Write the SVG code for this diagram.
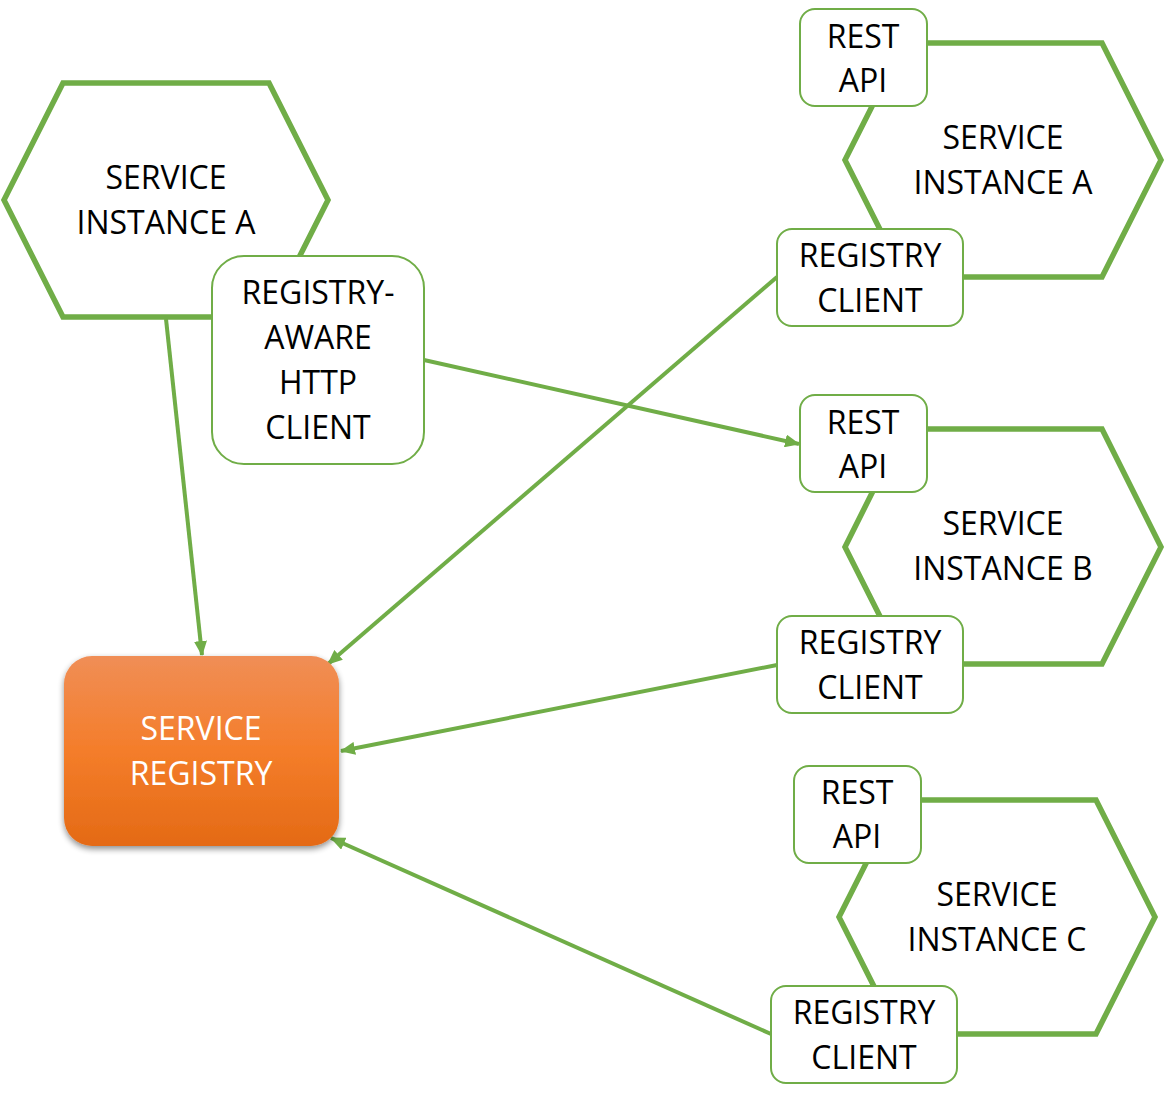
<svg xmlns="http://www.w3.org/2000/svg" width="1165" height="1103" viewBox="0 0 1165 1103">
<defs>
<linearGradient id="og" x1="0" y1="0" x2="0" y2="1">
<stop offset="0" stop-color="#F08E56"/>
<stop offset="0.5" stop-color="#F47D2A"/>
<stop offset="1" stop-color="#E46A15"/>
</linearGradient>
<filter id="sh" x="-20%" y="-20%" width="140%" height="140%">
<feGaussianBlur in="SourceAlpha" stdDeviation="3"/>
<feOffset dx="0" dy="3" result="b"/>
<feComponentTransfer><feFuncA type="linear" slope="0.45"/></feComponentTransfer>
<feMerge><feMergeNode/><feMergeNode in="SourceGraphic"/></feMerge>
</filter>
<marker id="ah" markerUnits="userSpaceOnUse" markerWidth="15" markerHeight="13" refX="14" refY="6.5" orient="auto">
<path d="M0,0 L15,6.5 L0,13 Z" fill="#70AD47"/>
</marker>
</defs>
<style>
.hex{fill:#fff;stroke:#70AD47;stroke-width:5.5}
.box{fill:#fff;stroke:#70AD47;stroke-width:2}
.t{font-family:"Open Sans","Noto Sans",sans-serif;font-size:32px;fill:#000;text-anchor:middle}
.w{fill:#fff}
.c{stroke:#70AD47;stroke-width:4;fill:none;marker-end:url(#ah)}
</style>
<g id="hex-left">
<polygon class="hex" points="63,83 269,83 328,200 269,317 63,317 4,200"/>
<text class="t" x="166" y="189">SERVICE</text>
<text class="t" x="166" y="234">INSTANCE A</text>
</g>
<g id="hex-a">
<polygon class="hex" points="904,43 1102,43 1161,160 1102,277 904,277 845,160"/>
<text class="t" x="1003" y="149">SERVICE</text>
<text class="t" x="1003" y="194">INSTANCE A</text>
</g>
<g id="hex-b">
<polygon class="hex" points="904,429 1102,429 1161,547 1102,664 904,664 845,547"/>
<text class="t" x="1003" y="535">SERVICE</text>
<text class="t" x="1003" y="580">INSTANCE B</text>
</g>
<g id="hex-c">
<polygon class="hex" points="898,800 1096,800 1155,917 1096,1034 898,1034 839,917"/>
<text class="t" x="997" y="906">SERVICE</text>
<text class="t" x="997" y="951">INSTANCE C</text>
</g>
<g id="connectors">
<line class="c" x1="166" y1="319" x2="202" y2="655"/>
<line class="c" x1="424" y1="360" x2="799" y2="444"/>
<line class="c" x1="777" y1="277" x2="328" y2="664"/>
<line class="c" x1="777" y1="665" x2="341" y2="751"/>
<line class="c" x1="771" y1="1034" x2="331" y2="838"/>
</g>
<g id="registry-aware-client">
<rect class="box" x="212" y="256" width="212" height="208" rx="32"/>
<text class="t" x="318" y="304">REGISTRY-</text>
<text class="t" x="318" y="349">AWARE</text>
<text class="t" x="318" y="394">HTTP</text>
<text class="t" x="318" y="439">CLIENT</text>
</g>
<g id="rest-a">
<rect class="box" x="800" y="9" width="127" height="97" rx="15"/>
<text class="t" x="863" y="48">REST</text>
<text class="t" x="863" y="92">API</text>
</g>
<g id="regclient-a">
<rect class="box" x="777" y="229" width="186" height="97" rx="15"/>
<text class="t" x="870" y="267">REGISTRY</text>
<text class="t" x="870" y="312">CLIENT</text>
</g>
<g id="rest-b">
<rect class="box" x="800" y="395" width="127" height="97" rx="15"/>
<text class="t" x="863" y="434">REST</text>
<text class="t" x="863" y="478">API</text>
</g>
<g id="regclient-b">
<rect class="box" x="777" y="616" width="186" height="97" rx="15"/>
<text class="t" x="870" y="654">REGISTRY</text>
<text class="t" x="870" y="699">CLIENT</text>
</g>
<g id="rest-c">
<rect class="box" x="794" y="766" width="127" height="97" rx="15"/>
<text class="t" x="857" y="804">REST</text>
<text class="t" x="857" y="848">API</text>
</g>
<g id="regclient-c">
<rect class="box" x="771" y="986" width="186" height="97" rx="15"/>
<text class="t" x="864" y="1024">REGISTRY</text>
<text class="t" x="864" y="1069">CLIENT</text>
</g>
<g id="service-registry">
<rect x="64" y="656" width="275" height="190" rx="28" fill="url(#og)" filter="url(#sh)"/>
<text class="t w" x="201" y="740">SERVICE</text>
<text class="t w" x="201" y="785">REGISTRY</text>
</g>
</svg>
